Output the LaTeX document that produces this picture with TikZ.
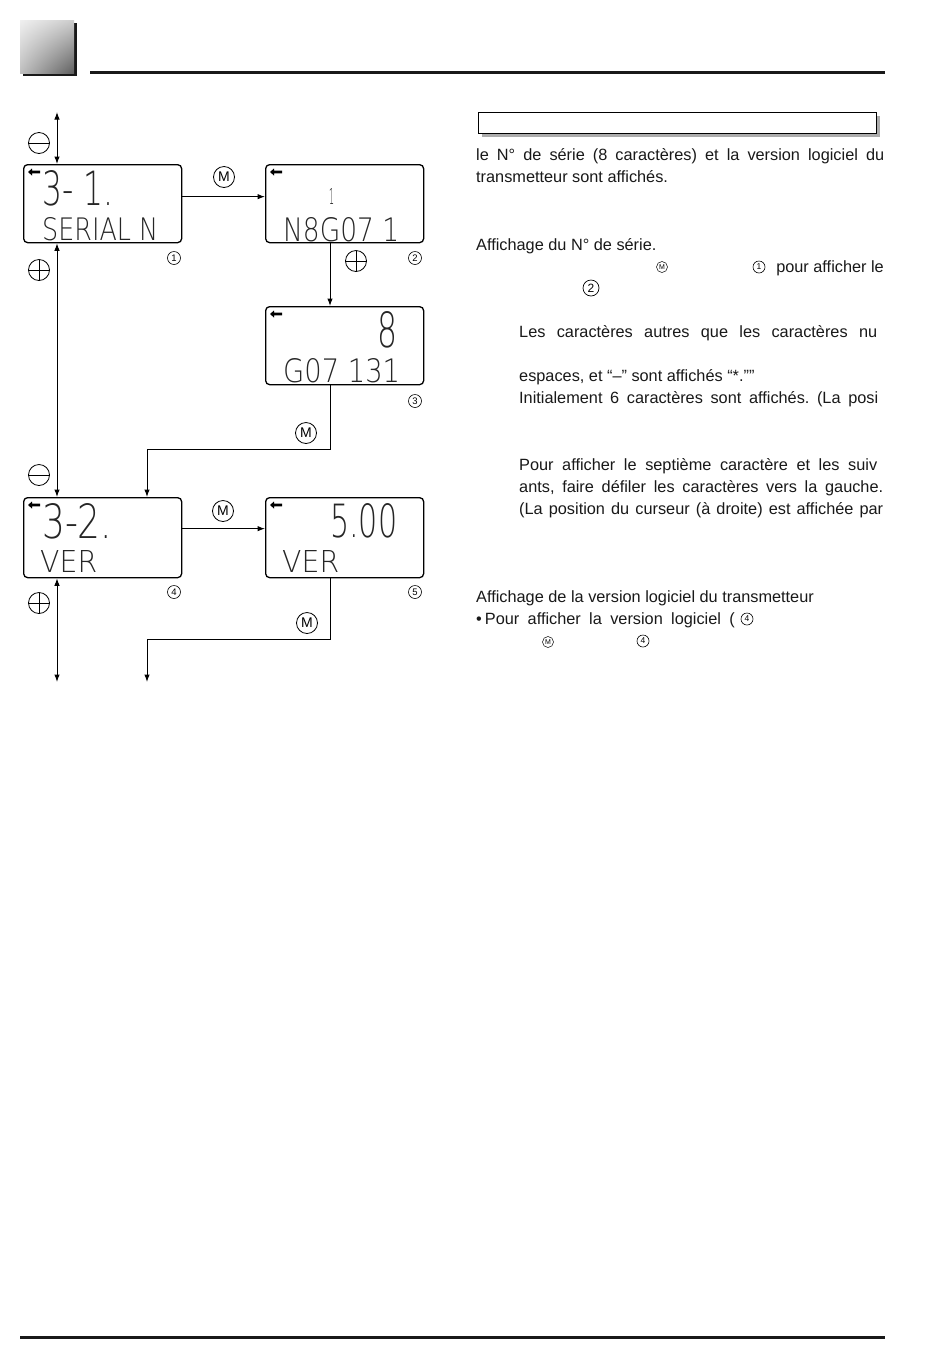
\documentclass[tikz,border=0pt]{standalone}
\usepackage{fontspec}
\setmainfont{Liberation Sans}
\IfFontExistsTF{DejaVuSans-ExtraLight.ttf}{\newfontfamily\lcdf{DejaVuSans-ExtraLight.ttf}}{\newfontfamily\lcdf{DejaVu Sans}}
\usetikzlibrary{arrows.meta,shadings}
\frenchspacing
\newcommand\lcd[3]{\resizebox{#1pt}{#2pt}{\lcdf #3}}
\tikzset{
  lcdbox/.style={draw, line width=1.3pt, rounded corners=4pt, minimum width=158pt, minimum height=78pt, inner sep=0pt, anchor=north west},
  lcdt/.style={inner sep=0pt, text=black!85},
  conn/.style={line width=1pt},
  arr/.style={conn, -{Latex[length=7.5pt,width=5.5pt]}},
  dbl/.style={conn, {Latex[length=7.5pt,width=5.5pt]}-{Latex[length=7.5pt,width=5.5pt]}},
  keyc/.style={circle, draw, line width=0.8pt, minimum size=21pt, inner sep=0pt},
  mkey/.style={keyc, font=\fontsize{14}{14}\selectfont},
  pkey/.style={keyc, path picture={\draw[line width=0.8pt] (path picture bounding box.west) -- (path picture bounding box.east); \draw[line width=0.8pt] (path picture bounding box.north) -- (path picture bounding box.south);}},
  nkey/.style={keyc, path picture={\draw[line width=0.8pt] (path picture bounding box.west) -- (path picture bounding box.east);}},
  num/.style={circle, draw, line width=0.6pt, minimum size=13pt, inner sep=0pt, font=\fontsize{9.5}{9.5}\selectfont},
  bignum/.style={circle, draw, line width=0.7pt, minimum size=16pt, inner sep=0pt, font=\fontsize{12}{12}\selectfont},
  smallm/.style={circle, draw, line width=0.5pt, minimum size=11pt, inner sep=0pt, font=\fontsize{7}{7}\selectfont},
  body/.style={inner sep=0pt, anchor=base west, font=\fontsize{16.3}{19}\selectfont, text=black!90},
  indic/.pic={\fill (0,0) -- (4,-3.5) -- (4,-1.4) -- (12,-1.4) -- (12,1.4) -- (4,1.4) -- (4,3.5) -- cycle;}
}
\begin{document}
\begin{tikzpicture}[x=1pt,y=-1pt]
\useasboundingbox (0,0) rectangle (950,1369);
\fill[white] (0,0) rectangle (950,1369);
% header
\fill[black!90] (23,23) rectangle (77,76);
\shade[upper left=gray!12, upper right=gray!40, lower left=gray!50, lower right=gray!75!black] (20,20) rectangle (74,73);
\draw[line width=3pt, black!90] (90,72) -- (885,72);
% footer
\draw[line width=3pt, black!90] (20,1337) -- (885,1337);

% LCD boxes
\node[lcdbox] (b1) at (23,164) {};
\node[lcdbox] (b2) at (265,164) {};
\node[lcdbox] (b3) at (265,306) {};
\node[lcdbox, minimum height=80pt] (b4) at (23,497) {};
\node[lcdbox, minimum height=80pt] (b5) at (265,497) {};
\foreach \b in {b1,b2,b3,b4,b5} {\pic at ([xshift=5pt,yshift=-8pt]\b.north west) {indic};}

% LCD texts
\node[lcdt, anchor=base west] (t1a) at (42,205) {\lcd{71}{35}{3- 1.}};
\node[lcdt, anchor=base west] (t1b) at (42,240) {\lcd{116}{23}{SERIAL N}};
\node[lcdt, anchor=base west] (t2a) at (329,204) {\lcd{5}{16}{1}};
\node[lcdt, anchor=base west] (t2b) at (283,241) {\lcd{116}{24}{N8G07 1}};
\node[lcdt, anchor=base west] (t3a) at (377,347) {\lcd{20}{36}{8}};
\node[lcdt, anchor=base west] (t3b) at (283,382) {\lcd{117}{24}{G07 131}};
\node[lcdt, anchor=base west] (t4a) at (42,538) {\lcd{70}{35}{3-2.}};
\node[lcdt, anchor=base west] (t4b) at (40,572) {\lcd{57}{22}{VER}};
\node[lcdt, anchor=base west] (t5a) at (330,537) {\lcd{67}{34}{5.00}};
\node[lcdt, anchor=base west] (t5b) at (282,572) {\lcd{57}{22}{VER}};

% labels
\node[num] (n1) at (174,258) {1};
\node[num] (n2) at (415,258) {2};
\node[num] (n3) at (415,401) {3};
\node[num] (n4) at (174,592) {4};
\node[num] (n5) at (415,592) {5};

% keys
\node[nkey] (k1) at (39,143) {};
\node[pkey] (k2) at (39,270) {};
\node[nkey] (k3) at (39,475) {};
\node[pkey] (k4) at (39,603) {};
\node[mkey] (m1) at (224,177) {M};
\node[pkey] (p1) at (356,261) {};
\node[mkey] (m2) at (306,433) {M};
\node[mkey] (m3) at (223,511) {M};
\node[mkey] (m4) at (307,623) {M};

% connectors
\coordinate (vtop) at (57,112);
\coordinate (vbot) at (57,682);
\coordinate (cx) at (330,0);
\coordinate (j1) at (147,449);
\coordinate (j2) at (147,639);
\coordinate (j3) at (147,682);
\draw[dbl] (vtop) -- (vtop |- b1.north);
\draw[dbl] (vtop |- b1.south) -- (vtop |- b4.north);
\draw[dbl] (vbot |- b4.south) -- (vbot);
\draw[arr] ([yshift=7pt]b1.east) -- ([yshift=7pt]b2.west);
\draw[arr] (cx |- b2.south) -- (cx |- b3.north);
\draw[arr] (cx |- b3.south) |- (j1) -- (j1 |- b4.north);
\draw[arr] ([yshift=9pt]b4.east) -- ([yshift=9pt]b5.west);
\draw[arr] (cx |- b5.south) |- (j2) -- (j3);

% right panel
\fill[gray!65] (482,116) rectangle (880,137);
\draw[fill=white, line width=1pt] (478,112) rectangle (876,133);
\node[body] (r1) at (476,160) {\makebox[408pt][s]{le N° de série (8 caractères) et la version logiciel du}};
\node[body] (r2) at (476,182) {transmetteur sont affichés.};
\node[body] (r3) at (476,250) {Affichage du N° de série.};
\node[smallm] (r4m) at (662,267) {M};
\node[body, anchor=base east] (r4) at (884,272) {pour afficher le};
\node[num, minimum size=12pt, font=\fontsize{8.5}{8.5}\selectfont] (r4n) at (759,267) {1};
\node[bignum] (r5n) at (591,288) {2};
\node[body] (r6) at (519,337) {\makebox[358pt][s]{Les caractères autres que les caractères nu}};
\node[body] (r7) at (519,381) {espaces, et “–” sont affichés “*.””};
\node[body] (r8) at (519,403) {\makebox[359pt][s]{Initialement 6 caractères sont affichés. (La posi}};
\node[body] (r9) at (519,470) {\makebox[358pt][s]{Pour afficher le septième caractère et les suiv}};
\node[body] (r10) at (519,492) {\makebox[364pt][s]{ants, faire défiler les caractères vers la gauche.}};
\node[body] (r11) at (519,514) {\makebox[364pt][s]{(La position du curseur (à droite) est affichée par}};
\node[body] (r12) at (476,602) {Affichage de la version logiciel du transmetteur};
\node[body] (r13) at (476,624) {•\hspace{3pt}\makebox[250pt][s]{Pour afficher la version logiciel (}};
\node[num, minimum size=12pt, font=\fontsize{8.5}{8.5}\selectfont] (r13n) at (747,619) {4};
\node[smallm] (r14m) at (548,642) {M};
\node[num, minimum size=12pt, font=\fontsize{8.5}{8.5}\selectfont] (r14n) at (643,641) {4};
\end{tikzpicture}
\end{document}
